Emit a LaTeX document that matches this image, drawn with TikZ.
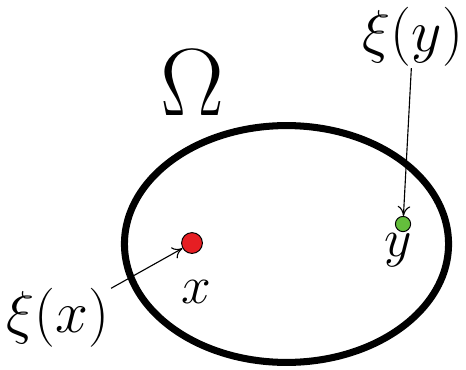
\documentclass[tikz,border=0pt]{standalone}
\usepackage{fix-cm}
\usetikzlibrary{arrows.meta}
\definecolor{dotred}{RGB}{230,30,35}
\definecolor{dotgreen}{RGB}{100,190,60}
\tikzset{
  pt/.style={draw, circle, line width=0.7pt, inner sep=0pt},
  lbl/.style={inner sep=1pt, font=\fontsize{42}{46}\selectfont},
  ptarrow/.style={-{To[length=7pt,width=9pt]}, line width=0.8pt},
}
\begin{document}
\begin{tikzpicture}[x=0.025cm,y=-0.025cm]
\useasboundingbox (0,0) rectangle (466,369);
\draw[line width=5pt] (286.5,244) ellipse [x radius=4.05cm, y radius=2.96cm];
\node[font=\fontsize{68}{72}\selectfont, inner sep=0pt] (omega) at (192,83) {$\Omega$};
\node[pt, fill=dotred, minimum size=0.52cm] (xdot) at (192,243) {};
\node[pt, fill=dotgreen, minimum size=0.38cm] (ydot) at (403,224) {};
\node[lbl, font=\fontsize{38}{42}\selectfont] (xlab) at (196,292) {$x$};
\node[lbl, font=\fontsize{38}{42}\selectfont] (ylab) at (398,250) {$y$};
\node[lbl] (xix) at (58,318) {$\xi(x)$};
\node[lbl] (xiy) at (413,37) {$\xi(y)$};
\draw[ptarrow] (xix) -- (xdot);
\draw[ptarrow] (xiy) -- (ydot);
\end{tikzpicture}
\end{document}
